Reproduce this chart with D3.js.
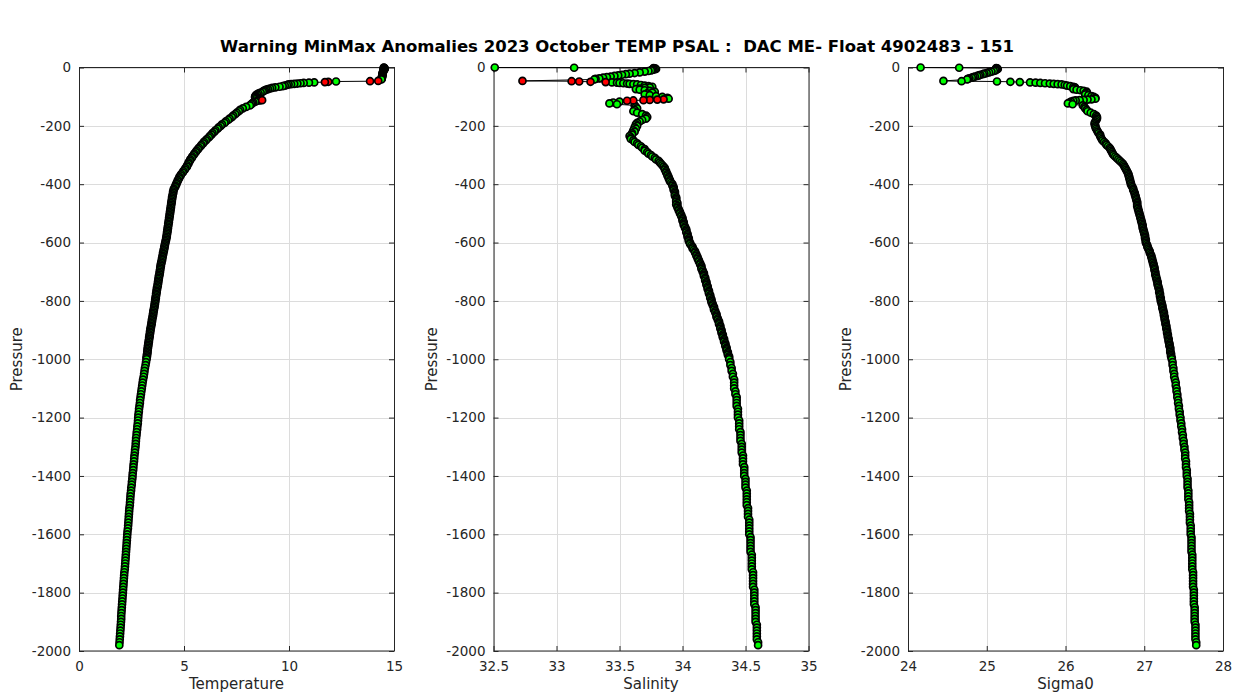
<!DOCTYPE html>
<html><head><meta charset="utf-8">
<script src="https://cdn.jsdelivr.net/npm/d3@7"></script>
<style>body{margin:0;background:#fff}svg{display:block}</style>
</head><body>
<svg id="chart" width="1233" height="693"></svg>
<script>
const titleText = "Warning MinMax Anomalies 2023 October TEMP PSAL :  DAC ME- Float 4902483 - 151";

// ---- pressure levels (dbar) ----
const presTop = [0,0.8,2,3,4,5,6,7,8,10,12,14,17,19,21,23,25,27,29,31,33,35,37,39,41,46,47,48,49,50,
 51,52,53,54,55,56,57,58,60,62,64,66,68,70,72,74,76,78,80,83,86,89,92,95,98,101,104,107,109,110,
 111,112,113,114,117,120,123,126];
const presMid = [130,135,140,145,150,155,160,165,170,175,180,185,190,195,200,205,210,215,220,225,
 230,235,240,245,250,255,260,265,270,275,280,285,290,295,300,305,310,315,320,325,
 330,335,340,345,350,355,360,365,370,375,380,385,390,395,400,405,410,415,420,425,
 430,435,440,445,450,455,460,465,470,475,480,485,490,495,500,505,510,515,520,525,
 530,535,540,545,550,555,560,565,570,575,580,585,590,595,600,605,610,615,620,625,
 630,635,640,645,650,655,660,665,670,675,680,685,690,695,700,705,710,715,720,725,
 730,735,740,745,750,755,760,765,770,775,780,785,790,795,800,805,810,815,820,825,
 830,835,840,845,850,855,860,865,870,875,880,885,890,895,900,905,910,915,920,925,
 930,935,940,945,950,955,960,965,970,975,980,985,990,995,1000];
const presDeep = [1010,1020,1030,1040,1050,1060,1070,1080,1090,1100,1110,1120,1130,1140,1150,1160,1170,1180,1190,1200,
 1210,1220,1230,1240,1250,1260,1270,1280,1290,1300,1310,1320,1330,1340,1350,1360,1370,1380,1390,1400,
 1410,1420,1430,1440,1450,1460,1470,1480,1490,1500,1510,1520,1530,1540,1550,1560,1570,1580,1590,1600,
 1610,1620,1630,1640,1650,1660,1670,1680,1690,1700,1710,1720,1730,1740,1750,1760,1770,1780,1790,1800,
 1810,1820,1830,1840,1850,1860,1870,1880,1890,1900,1910,1920,1930,1940,1950,1960,1970,1980];

// ---- temperature ----
const tempTop = [14.52,14.51,14.54,14.55,14.53,14.56,14.52,14.50,14.51,14.49,14.50,14.48,14.47,14.46,14.46,14.45,14.45,14.44,14.44,14.43,
 14.43,14.42,14.42,14.41,14.40,14.25,13.86,12.24,11.87,11.71,11.20,10.95,10.70,10.55,10.40,10.25,10.10,9.98,9.90,9.80,
 9.70,9.55,9.35,9.20,9.10,9.00,8.92,8.85,8.80,8.75,8.65,8.55,8.48,8.42,8.40,8.38,8.40,8.45,8.55,8.62,
 8.66,8.72,8.60,8.50,8.40,8.30,8.25,8.20];
const tempMid = [8.14,7.96,7.80,7.67,7.61,7.51,7.44,7.34,7.28,7.17,7.10,6.99,6.93,6.81,6.75,6.65,6.60,6.50,6.45,6.36,
 6.31,6.23,6.18,6.09,6.04,5.95,5.91,5.83,5.79,5.71,5.67,5.60,5.56,5.49,5.46,5.39,5.37,5.30,5.28,5.22,
 5.21,5.15,5.14,5.07,5.04,4.97,4.94,4.87,4.84,4.78,4.77,4.71,4.70,4.65,4.64,4.59,4.58,4.52,4.51,4.48,
 4.49,4.46,4.46,4.43,4.44,4.41,4.42,4.39,4.40,4.37,4.38,4.35,4.36,4.33,4.34,4.31,4.32,4.29,4.30,4.27,
 4.28,4.25,4.26,4.23,4.24,4.21,4.22,4.19,4.20,4.17,4.18,4.15,4.15,4.12,4.12,4.09,4.09,4.06,4.07,4.03,
 4.04,4.00,4.01,3.98,3.98,3.95,3.96,3.92,3.93,3.89,3.90,3.87,3.88,3.85,3.86,3.83,3.84,3.80,3.81,3.78,
 3.79,3.76,3.77,3.74,3.75,3.71,3.72,3.69,3.70,3.67,3.68,3.65,3.66,3.63,3.64,3.61,3.62,3.59,3.60,3.57,
 3.57,3.54,3.55,3.52,3.53,3.50,3.50,3.47,3.48,3.45,3.46,3.43,3.43,3.40,3.41,3.38,3.39,3.36,3.37,3.34,
 3.35,3.32,3.33,3.30,3.31,3.28,3.29,3.26,3.27,3.25,3.26,3.23,3.24,3.21,3.22];
const tempDeep = [3.19,3.17,3.14,3.12,3.10,3.08,3.05,3.03,3.01,2.99,2.97,2.95,2.93,2.91,2.90,2.88,2.86,2.85,2.83,2.82,
 2.81,2.80,2.78,2.77,2.75,2.74,2.72,2.71,2.70,2.69,2.67,2.66,2.64,2.63,2.62,2.60,2.59,2.58,2.56,2.55,
 2.54,2.52,2.51,2.49,2.48,2.46,2.45,2.44,2.43,2.42,2.40,2.39,2.38,2.37,2.36,2.35,2.34,2.33,2.31,2.30,
 2.29,2.28,2.27,2.26,2.25,2.24,2.23,2.22,2.21,2.20,2.19,2.18,2.16,2.15,2.14,2.13,2.12,2.11,2.10,2.09,
 2.08,2.07,2.06,2.05,2.04,2.03,2.02,2.01,2.01,2.00,1.99,1.98,1.97,1.96,1.95,1.94,1.93,1.92];

// ---- salinity ----
const psalTop = [32.51,33.14,33.77,33.78,33.77,33.79,33.78,33.77,33.76,33.75,33.73,33.70,33.66,33.62,33.58,33.55,33.52,33.49,33.46,33.43,
 33.40,33.37,33.34,33.31,33.30,32.73,33.12,33.18,33.27,33.39,33.44,33.48,33.50,33.53,33.56,33.58,33.61,33.64,33.67,33.70,
 33.73,33.76,33.74,33.70,33.66,33.63,33.66,33.70,33.74,33.78,33.76,33.72,33.70,33.74,33.79,33.84,33.88,33.89,33.85,33.80,
 33.74,33.69,33.61,33.56,33.50,33.45,33.42,33.48];
const psalMid = [33.62,33.63,33.64,33.62,33.61,33.64,33.68,33.71,33.72,33.71,33.68,33.66,33.64,33.63,33.64,33.62,33.63,33.61,33.62,33.60,
 33.60,33.58,33.59,33.59,33.61,33.62,33.64,33.65,33.67,33.68,33.70,33.70,33.72,33.73,33.75,33.76,33.78,33.79,33.81,33.82,
 33.83,33.84,33.85,33.86,33.86,33.87,33.87,33.88,33.88,33.89,33.89,33.90,33.90,33.91,33.92,33.92,33.93,33.93,33.93,33.94,
 33.94,33.94,33.94,33.95,33.95,33.95,33.95,33.96,33.95,33.96,33.96,33.97,33.97,33.98,33.98,33.99,33.99,34.00,34.00,34.00,
 34.01,34.01,34.01,34.02,34.02,34.03,34.03,34.03,34.04,34.04,34.04,34.05,34.05,34.05,34.06,34.06,34.07,34.08,34.08,34.09,
 34.10,34.10,34.11,34.11,34.12,34.12,34.13,34.13,34.14,34.14,34.15,34.15,34.15,34.16,34.16,34.17,34.17,34.17,34.18,34.18,
 34.18,34.19,34.19,34.19,34.20,34.20,34.20,34.21,34.21,34.21,34.22,34.22,34.22,34.23,34.23,34.23,34.24,34.24,34.25,34.25,
 34.25,34.26,34.26,34.27,34.27,34.27,34.28,34.28,34.29,34.29,34.29,34.30,34.30,34.30,34.31,34.31,34.31,34.32,34.32,34.32,
 34.33,34.33,34.33,34.34,34.34,34.34,34.35,34.35,34.35,34.36,34.36,34.36,34.37,34.37,34.37];
const psalDeep = [34.38,34.38,34.39,34.39,34.40,34.40,34.41,34.41,34.41,34.41,34.42,34.42,34.43,34.43,34.43,34.43,34.44,34.44,34.44,34.44,
 34.45,34.45,34.45,34.45,34.46,34.46,34.46,34.46,34.47,34.47,34.47,34.47,34.48,34.48,34.48,34.48,34.49,34.49,34.49,34.49,
 34.50,34.50,34.50,34.50,34.51,34.51,34.51,34.51,34.51,34.51,34.52,34.52,34.52,34.52,34.53,34.53,34.53,34.53,34.53,34.53,
 34.54,34.54,34.54,34.54,34.54,34.54,34.55,34.55,34.55,34.55,34.55,34.55,34.56,34.56,34.56,34.56,34.56,34.56,34.57,34.57,
 34.57,34.57,34.57,34.57,34.58,34.58,34.58,34.58,34.58,34.58,34.59,34.59,34.59,34.59,34.59,34.59,34.60,34.60];

// ---- sigma0 ----
const sigTop = [24.16,24.65,25.12,25.13,25.12,25.14,25.13,25.12,25.11,25.11,25.09,25.06,25.03,25.00,24.97,24.95,24.92,24.90,24.88,24.85,
 24.83,24.81,24.78,24.76,24.75,24.45,24.68,25.13,25.30,25.42,25.55,25.62,25.68,25.74,25.80,25.85,25.90,25.95,25.99,26.02,
 26.06,26.10,26.12,26.12,26.11,26.10,26.14,26.19,26.23,26.27,26.27,26.25,26.25,26.29,26.33,26.36,26.38,26.38,26.33,26.28,
 26.23,26.18,26.13,26.10,26.07,26.05,26.03,26.09];
const sigMid = [26.22,26.24,26.25,26.27,26.28,26.32,26.36,26.39,26.40,26.40,26.39,26.38,26.37,26.37,26.38,26.38,26.39,26.40,26.41,26.42,
 26.44,26.44,26.45,26.46,26.47,26.49,26.51,26.52,26.54,26.56,26.57,26.58,26.59,26.60,26.61,26.63,26.65,26.67,26.69,26.71,
 26.73,26.74,26.75,26.76,26.77,26.78,26.79,26.80,26.80,26.81,26.81,26.82,26.82,26.83,26.83,26.84,26.85,26.86,26.86,26.87,
 26.88,26.88,26.89,26.89,26.90,26.90,26.91,26.91,26.91,26.91,26.92,26.92,26.93,26.93,26.94,26.94,26.95,26.95,26.96,26.96,
 26.97,26.97,26.98,26.98,26.98,26.99,26.99,27.00,27.00,27.01,27.01,27.01,27.02,27.02,27.02,27.03,27.04,27.04,27.05,27.06,
 27.07,27.07,27.08,27.09,27.09,27.10,27.10,27.11,27.11,27.12,27.12,27.13,27.13,27.13,27.14,27.14,27.14,27.15,27.15,27.16,
 27.16,27.17,27.17,27.17,27.18,27.18,27.19,27.19,27.19,27.20,27.20,27.20,27.21,27.21,27.21,27.22,27.22,27.23,27.23,27.23,
 27.24,27.24,27.25,27.25,27.25,27.26,27.26,27.26,27.27,27.27,27.27,27.28,27.28,27.28,27.29,27.29,27.29,27.30,27.30,27.30,
 27.31,27.31,27.31,27.32,27.32,27.32,27.33,27.33,27.33,27.33,27.34,27.34,27.34,27.35,27.35];
const sigDeep = [27.36,27.36,27.37,27.37,27.38,27.38,27.39,27.40,27.40,27.41,27.41,27.42,27.42,27.43,27.43,27.44,27.44,27.45,27.45,27.46,
 27.46,27.47,27.47,27.48,27.48,27.49,27.49,27.50,27.50,27.51,27.51,27.52,27.52,27.52,27.53,27.53,27.53,27.54,27.54,27.54,
 27.55,27.55,27.55,27.55,27.56,27.56,27.56,27.56,27.57,27.57,27.57,27.57,27.58,27.58,27.58,27.58,27.59,27.59,27.59,27.59,
 27.60,27.60,27.60,27.60,27.60,27.60,27.61,27.61,27.61,27.61,27.61,27.61,27.62,27.62,27.62,27.62,27.62,27.62,27.63,27.63,
 27.63,27.63,27.63,27.63,27.64,27.64,27.64,27.64,27.64,27.64,27.65,27.65,27.65,27.65,27.65,27.65,27.66,27.66];

// ---- flagged (anomaly) levels, by pressure ----
const tempFlagPres = [46,47,49,50,112];
const psalFlagPres = [46,47,48,49,50,109,110,111,112,113,114];
const sigFlagPres = [];

// ---- ticks / labels ----
const tempTicks = [0,5,10,15];
const psalTicks = [32.5,33,33.5,34,34.5,35];
const sigTicks = [24,25,26,27,28];
const presTicks = [0,-200,-400,-600,-800,-1000,-1200,-1400,-1600,-1800,-2000];
const xLabels = ["Temperature","Salinity","Sigma0"];
const yLabel = "Pressure";

// ---- assemble ----
const pres = presTop.concat(presMid, presDeep);
const series = [
  {vals: tempTop.concat(tempMid, tempDeep), domain:[0,15], ticks: tempTicks, label: xLabels[0], flags: tempFlagPres},
  {vals: psalTop.concat(psalMid, psalDeep), domain:[32.5,35], ticks: psalTicks, label: xLabels[1], flags: psalFlagPres},
  {vals: sigTop.concat(sigMid, sigDeep), domain:[24,28], ticks: sigTicks, label: xLabels[2], flags: sigFlagPres}
];

const svg = d3.select("#chart");
const FONT = "DejaVu Sans, Liberation Sans, sans-serif";
const TXT = "#262626";
const plotTop = 67.5, plotBottom = 651, plotW = 315;
const lefts = [79, 493.5, 908];

svg.append("rect").attr("width",1233).attr("height",693).attr("fill","#fff");

svg.append("text")
  .attr("x", 617).attr("y", 52)
  .attr("text-anchor","middle")
  .style("white-space","pre")
  .attr("font-family", FONT).attr("font-weight","bold").attr("font-size", 16.5)
  .attr("fill","#000")
  .text(titleText);

const y = d3.scaleLinear().domain([-2000,0]).range([plotBottom, plotTop]);

series.forEach((s, i) => {
  const L = lefts[i];
  const x = d3.scaleLinear().domain(s.domain).range([L, L + plotW]);
  const g = svg.append("g");

  // grid
  g.append("g").selectAll("line").data(s.ticks).join("line")
    .attr("x1", d => Math.round(x(d)) + 0.5).attr("x2", d => Math.round(x(d)) + 0.5)
    .attr("y1", plotTop).attr("y2", plotBottom)
    .attr("stroke", "#dcdcdc").attr("stroke-width", 1);
  g.append("g").selectAll("line").data(presTicks).join("line")
    .attr("y1", d => Math.round(y(d)) + 0.5).attr("y2", d => Math.round(y(d)) + 0.5)
    .attr("x1", L).attr("x2", L + plotW)
    .attr("stroke", "#dcdcdc").attr("stroke-width", 1);

  // axes (ticks inward on all four sides)
  const styleAxis = sel => {
    sel.select(".domain").remove();
    sel.selectAll(".tick line").attr("stroke", TXT);
    sel.selectAll("text").attr("font-family", FONT).attr("font-size", 13.5).attr("fill", TXT);
  };
  g.append("g").attr("transform", `translate(0,${plotBottom})`)
    .call(d3.axisBottom(x).tickValues(s.ticks).tickSizeInner(-5).tickSizeOuter(0).tickPadding(10)
      .tickFormat(d3.format("")))
    .call(styleAxis);
  g.append("g").attr("transform", `translate(0,${plotTop})`)
    .call(d3.axisTop(x).tickValues(s.ticks).tickSizeInner(-5).tickSizeOuter(0).tickFormat(""))
    .call(styleAxis);
  g.append("g").attr("transform", `translate(${L},0)`)
    .call(d3.axisLeft(y).tickValues(presTicks).tickSizeInner(-5).tickSizeOuter(0).tickPadding(8)
      .tickFormat(d => String(d)))
    .call(styleAxis);
  g.append("g").attr("transform", `translate(${L + plotW},0)`)
    .call(d3.axisRight(y).tickValues(presTicks).tickSizeInner(-5).tickSizeOuter(0).tickFormat(""))
    .call(styleAxis);

  // box
  g.append("rect").attr("x", L + 0.5).attr("y", plotTop).attr("width", plotW).attr("height", plotBottom - plotTop)
    .attr("fill", "none").attr("stroke", TXT).attr("stroke-width", 1);

  // labels
  g.append("text").attr("x", L + plotW / 2).attr("y", 689)
    .attr("text-anchor", "middle").attr("font-family", FONT).attr("font-size", 15).attr("fill", TXT)
    .text(s.label);
  g.append("text").attr("transform", `translate(${L - 57},${(plotTop + plotBottom) / 2}) rotate(-90)`)
    .attr("text-anchor", "middle").attr("font-family", FONT).attr("font-size", 15).attr("fill", TXT)
    .text(yLabel);

  // data
  const pts = pres.map((p, k) => ({p, v: s.vals[k], bad: s.flags.includes(p)}));
  const line = d3.line().x(d => x(d.v)).y(d => y(-d.p));
  g.append("path").datum(pts).attr("d", line)
    .attr("fill", "none").attr("stroke", "#000").attr("stroke-width", 1);
  g.append("g").selectAll("circle").data(pts.filter(d => !d.bad)).join("circle")
    .attr("cx", d => x(d.v)).attr("cy", d => y(-d.p)).attr("r", 3.5)
    .attr("fill", "#00ff00").attr("stroke", "#000").attr("stroke-width", 1.7);
  g.append("g").selectAll("circle").data(pts.filter(d => d.bad)).join("circle")
    .attr("cx", d => x(d.v)).attr("cy", d => y(-d.p)).attr("r", 3.5)
    .attr("fill", "#ff0000").attr("stroke", "#000").attr("stroke-width", 1.7);
});
</script>
</body></html>
